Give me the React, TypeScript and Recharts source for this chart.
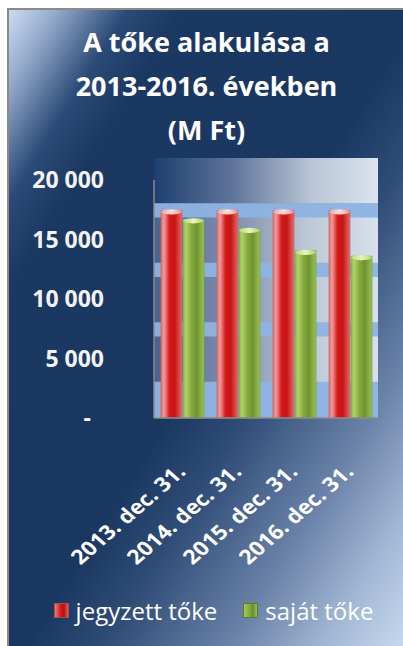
import { Bar, BarChart, Legend, ReferenceArea, XAxis, YAxis } from "recharts";

const categories = ["2013. dec. 31.", "2014. dec. 31.", "2015. dec. 31.", "2016. dec. 31."];
const jegyzettToke = [17450, 17450, 17450, 17450];
const sajatToke = [16700, 15900, 14050, 13600];
const yTicks = [0, 5000, 10000, 15000, 20000];
const seriesNames = ["jegyzett tőke", "saját tőke"];

const data = categories.map((name, i) => ({
  name,
  jegyzett: jegyzettToke[i],
  sajat: sajatToke[i],
}));

const FONT = "'Open Sans', 'Noto Sans', sans-serif";
const AXIS = "#8a8a8a";
// 3D depth of the back wall, in value units
const DEPTH = 1850;
const yMax = yTicks[yTicks.length - 1];
const wallTop = yMax + DEPTH;
const bands = yTicks.slice(0, -1).map((t) => ({
  y1: t === 0 ? 0 : t + DEPTH,
  y2: t + DEPTH + 1200,
}));

const fmt = (v: number) =>
  v === 0 ? "-\u2007" : v.toString().replace(/\B(?=(\d{3})+(?!\d))/g, " ");

// the original picture is slightly stretched sideways, so the labels are too
const XTick = ({ x, y, payload }: any) => (
  <g transform={`translate(${x + 5} ${y + 47}) scale(1.15 1) rotate(-45)`}>
    <text
      x={0}
      y={0}
      textAnchor="end"
      fill="#ffffff"
      fontFamily={FONT}
      fontWeight={700}
      fontSize={20}
    >
      {payload.value}
    </text>
  </g>
);

// left edge of the value axis, only up to the top tick
const AxisEdge = (p: any) => (
  <line x1={p.x} y1={p.y} x2={p.x} y2={p.y + p.height} stroke={AXIS} strokeWidth={1.5} />
);

const cylinder = (body: string, cap: string, edge: string) => (props: any) => {
  const { x, y, width, height } = props;
  if (!height || height <= 0) return null;
  return (
    <g>
      <rect x={x} y={y} width={width} height={height} fill={`url(#${body})`} stroke={edge} strokeWidth={0.7} />
      <ellipse cx={x + width / 2} cy={y + 1.5} rx={width / 2} ry={2.6} fill={`url(#${cap})`} />
    </g>
  );
};

const RedBar = cylinder("redBody", "redCap", "#b86a6a");
const GreenBar = cylinder("greenBody", "greenCap", "#7c9a52");

const LegendContent = () => (
  <div
    style={{
      display: "flex",
      justifyContent: "center",
      alignItems: "center",
      height: 40,
      paddingLeft: 40,
      fontFamily: FONT,
      fontSize: 24,
      color: "#ffffff",
    }}
  >
    <span style={{ display: "flex", alignItems: "center", marginRight: 26 }}>
      <span
        style={{
          width: 15,
          height: 15,
          marginRight: 7,
          background: "linear-gradient(to right, #f07a7a, #d01818 45%, #c01010 70%, #e05a5a)",
          border: "1px solid #a05050",
          boxSizing: "border-box",
        }}
      />
      {seriesNames[0]}
    </span>
    <span style={{ display: "flex", alignItems: "center" }}>
      <span
        style={{
          width: 15,
          height: 15,
          marginRight: 7,
          background: "linear-gradient(to right, #a6c85a, #7fa83a 45%, #6b8f2c 70%, #9cc050)",
          border: "1px solid #5d7a30",
          boxSizing: "border-box",
        }}
      />
      {seriesNames[1]}
    </span>
  </div>
);

export default function App() {
  return (
    <div style={{ position: "relative", width: 403, height: 646, overflow: "hidden" }}>
      <style>{"body{margin:0;overflow:hidden;}"}</style>
      <div
        style={{
          position: "absolute",
          left: 7,
          top: 8,
          width: 396,
          height: 638,
          boxSizing: "border-box",
          borderLeft: `2px solid ${AXIS}`,
          borderTop: `2px solid ${AXIS}`,
          background:
            "linear-gradient(to bottom right, #cadcf1 0%, #95abcb 6%, #2b4a77 15%, #1b3862 22%, #1a3761 52%, #2f4c77 62%, #6a82a8 78%, #a2b7d4 90%, #c6d8ee 100%)",
        }}
      >
        <div
          style={{
            position: "absolute",
            left: 0,
            top: 10,
            width: 395,
            textAlign: "center",
            fontFamily: FONT,
            fontWeight: 700,
            fontSize: 27,
            lineHeight: "44px",
            color: "#ffffff",
          }}
        >
          A tőke alakulása a
          <br />
          2013-2016. években
          <br />
          (M Ft)
        </div>
        <div style={{ position: "absolute", left: 0, top: 0 }}>
          <BarChart
            width={394}
            height={636}
            data={data}
            margin={{ top: 148, right: 25, left: 0, bottom: 16 }}
            barCategoryGap="12.5%"
            barGap={1}
          >
            <defs>
              <linearGradient id="wallTop" x1="0" y1="0" x2="1" y2="0">
                <stop offset="0%" stopColor="#1d3f70" />
                <stop offset="35%" stopColor="#5f7499" />
                <stop offset="70%" stopColor="#b8c5d6" />
                <stop offset="100%" stopColor="#dbe4ef" />
              </linearGradient>
              <linearGradient id="wallLow" x1="0" y1="0" x2="1" y2="0">
                <stop offset="0%" stopColor="#4a6290" />
                <stop offset="40%" stopColor="#8797b2" />
                <stop offset="70%" stopColor="#bfcad9" />
                <stop offset="100%" stopColor="#d6dfea" />
              </linearGradient>
              <linearGradient id="redBody" x1="0" y1="0" x2="1" y2="0">
                <stop offset="0%" stopColor="#e87070" />
                <stop offset="15%" stopColor="#f29a9a" />
                <stop offset="40%" stopColor="#d41c1c" />
                <stop offset="65%" stopColor="#c81414" />
                <stop offset="88%" stopColor="#dc4a4a" />
                <stop offset="100%" stopColor="#d87070" />
              </linearGradient>
              <linearGradient id="redCap" x1="0" y1="0" x2="1" y2="0">
                <stop offset="0%" stopColor="#f4a0a0" />
                <stop offset="50%" stopColor="#fde0e0" />
                <stop offset="100%" stopColor="#f29090" />
              </linearGradient>
              <linearGradient id="greenBody" x1="0" y1="0" x2="1" y2="0">
                <stop offset="0%" stopColor="#8fb84c" />
                <stop offset="15%" stopColor="#b0d266" />
                <stop offset="40%" stopColor="#86ac3c" />
                <stop offset="65%" stopColor="#6f9230" />
                <stop offset="88%" stopColor="#8cb246" />
                <stop offset="100%" stopColor="#9cc058" />
              </linearGradient>
              <linearGradient id="greenCap" x1="0" y1="0" x2="1" y2="0">
                <stop offset="0%" stopColor="#b8d878" />
                <stop offset="50%" stopColor="#e8f5c0" />
                <stop offset="100%" stopColor="#b0d070" />
              </linearGradient>
            </defs>
            <ReferenceArea y1={0} y2={bands[bands.length - 1].y2} fill="url(#wallLow)" fillOpacity={1} stroke="none" />
            <ReferenceArea y1={bands[bands.length - 1].y2} y2={wallTop} fill="url(#wallTop)" fillOpacity={1} stroke="none" />
            {bands.map((b, i) => (
              <ReferenceArea key={i} y1={b.y1} y2={b.y2} fill="#8db3e2" fillOpacity={0.95} stroke="none" />
            ))}
            <ReferenceArea x1={categories[0]} x2={categories[0]} y1={0} y2={yMax} shape={AxisEdge} />
            <XAxis
              dataKey="name"
              height={172}
              interval={0}
              tickLine={false}
              axisLine={{ stroke: AXIS, strokeWidth: 1.5 }}
              tick={<XTick />}
            />
            <YAxis
              width={145}
              domain={[0, wallTop]}
              ticks={yTicks}
              interval={0}
              tickSize={0}
              tickMargin={50}
              tickLine={false}
              axisLine={false}
              tickFormatter={fmt}
              tick={{ fill: "#f2f2f2", fontFamily: FONT, fontWeight: 700, fontSize: 23 }}
            />
            <Legend verticalAlign="bottom" content={<LegendContent />} />
            <Bar dataKey="jegyzett" name={seriesNames[0]} shape={RedBar} isAnimationActive={false} />
            <Bar dataKey="sajat" name={seriesNames[1]} shape={GreenBar} isAnimationActive={false} />
          </BarChart>
        </div>
      </div>
    </div>
  );
}
